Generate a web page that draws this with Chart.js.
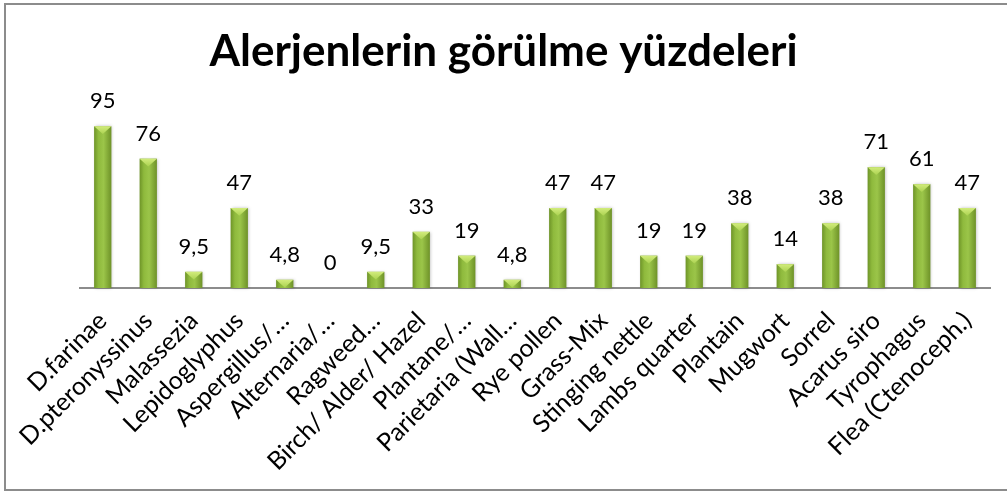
<!DOCTYPE html>
<html>
<head>
<meta charset="utf-8">
<script src="https://cdn.jsdelivr.net/npm/chart.js@4.4.1/dist/chart.umd.min.js"></script>
<style>
  html, body { margin: 0; padding: 0; background: #fff; }
  #wrap { position: relative; width: 1007px; height: 495px; overflow: hidden; }
  #frame { position: absolute; left: 4px; top: 3px; width: 1020px; height: 488px; border: 2px solid #8c8c8c; box-sizing: border-box; }
  canvas { position: absolute; left: 0; top: 0; }
</style>
</head>
<body>
<div id="wrap">
  <div id="frame"></div>
  <canvas id="chart" width="1007" height="495"></canvas>
</div>
<script>
// Alerjenlerin görülme yüzdeleri — bar chart

// --- Data ---
const allergens = [
    'D.farinae', 'D.pteronyssinus', 'Malassezia', 'Lepidoglyphus', 'Aspergillus/…',
    'Alternaria/…', 'Ragweed…', 'Birch/ Alder/ Hazel', 'Plantane/…', 'Parietaria (Wall…',
    'Rye pollen', 'Grass-Mix', 'Stinging nettle', 'Lambs quarter', 'Plantain',
    'Mugwort', 'Sorrel', 'Acarus siro', 'Tyrophagus', 'Flea (Ctenoceph.)'
];
const percentages = [95, 76, 9.5, 47, 4.8, 0, 9.5, 33, 19, 4.8, 47, 47, 19, 19, 38, 14, 38, 71, 61, 47];

const FONT = 'Lato, "Open Sans", sans-serif';

// --- Custom plugin: shaded bevelled bars + value labels ---
const bevelPlugin = {
    id: 'bevelBars',
    afterDatasetsDraw(chart) {
        const ctx = chart.ctx;
        const meta = chart.getDatasetMeta(0);
        ctx.save();
        meta.data.forEach(function (bar, i) {
            const w = bar.width;
            const left = bar.x - w / 2;
            const top = bar.y;
            const h = bar.base - bar.y;

            if (h > 0.5) {
                // soft shadow + body gradient
                ctx.save();
                ctx.shadowColor = 'rgba(0,0,0,0.25)';
                ctx.shadowBlur = 3;
                ctx.shadowOffsetX = 1;
                const g = ctx.createLinearGradient(left, 0, left + w, 0);
                g.addColorStop(0, '#6e9428');
                g.addColorStop(0.25, '#8fba3d');
                g.addColorStop(0.55, '#9bc549');
                g.addColorStop(1, '#6e9228');
                ctx.fillStyle = g;
                ctx.fillRect(left, top, w, h);
                ctx.restore();

                // top bevel
                const bh = Math.min(w * 0.45, h);
                const tg = ctx.createLinearGradient(0, top, 0, top + bh);
                tg.addColorStop(0, '#d2ec7c');
                tg.addColorStop(1, '#abd251');
                ctx.fillStyle = tg;
                ctx.beginPath();
                ctx.moveTo(left, top);
                ctx.lineTo(left + w, top);
                if (bh < w * 0.45) {
                    ctx.lineTo(left + w, top + bh);
                    ctx.lineTo(left, top + bh);
                } else {
                    ctx.lineTo(bar.x, top + bh);
                }
                ctx.closePath();
                ctx.fill();
            }

            // value label
            ctx.fillStyle = '#000';
            ctx.font = '22px ' + FONT;
            ctx.textAlign = 'center';
            ctx.textBaseline = 'middle';
            const txt = String(percentages[i]).replace('.', ',');
            ctx.fillText(txt, bar.x, bar.y - 25);
        });
        ctx.restore();
    }
};

// invisible spacer axis
function spacer(position, width) {
    return {
        position: position,
        display: true,
        grid: { display: false },
        border: { display: false },
        ticks: { display: false },
        afterFit: function (scale) { scale.width = width; }
    };
}

const yLeft = spacer('left', 80);
yLeft.min = 0;
yLeft.max = 100;

const chart = new Chart(document.getElementById('chart'), {
    type: 'bar',
    data: {
        labels: allergens,
        datasets: [{
            label: 'Yüzde',
            data: percentages,
            backgroundColor: 'rgba(0,0,0,0)',
            categoryPercentage: 1.0,
            barPercentage: 0.38,
            yAxisID: 'y'
        }]
    },
    options: {
        responsive: false,
        animation: false,
        layout: { padding: 0 },
        plugins: {
            legend: { display: false },
            tooltip: { enabled: false },
            title: {
                display: true,
                text: 'Alerjenlerin görülme yüzdeleri',
                font: { family: FONT, size: 44, weight: 'bold' },
                color: '#000',
                padding: { top: 25, bottom: 40 }
            }
        },
        scales: {
            x: {
                grid: { display: false },
                border: { display: true, color: '#8c8c8c', width: 2 },
                ticks: {
                    autoSkip: false,
                    maxRotation: 45,
                    minRotation: 45,
                    padding: 10,
                    color: '#000',
                    font: { family: FONT, size: 25 }
                },
                afterFit: function (scale) {
                    scale.height = 207;
                }
            },
            y: yLeft,
            yRight: spacer('right', 17)
        }
    },
    plugins: [bevelPlugin]
});
</script>
</body>
</html>
